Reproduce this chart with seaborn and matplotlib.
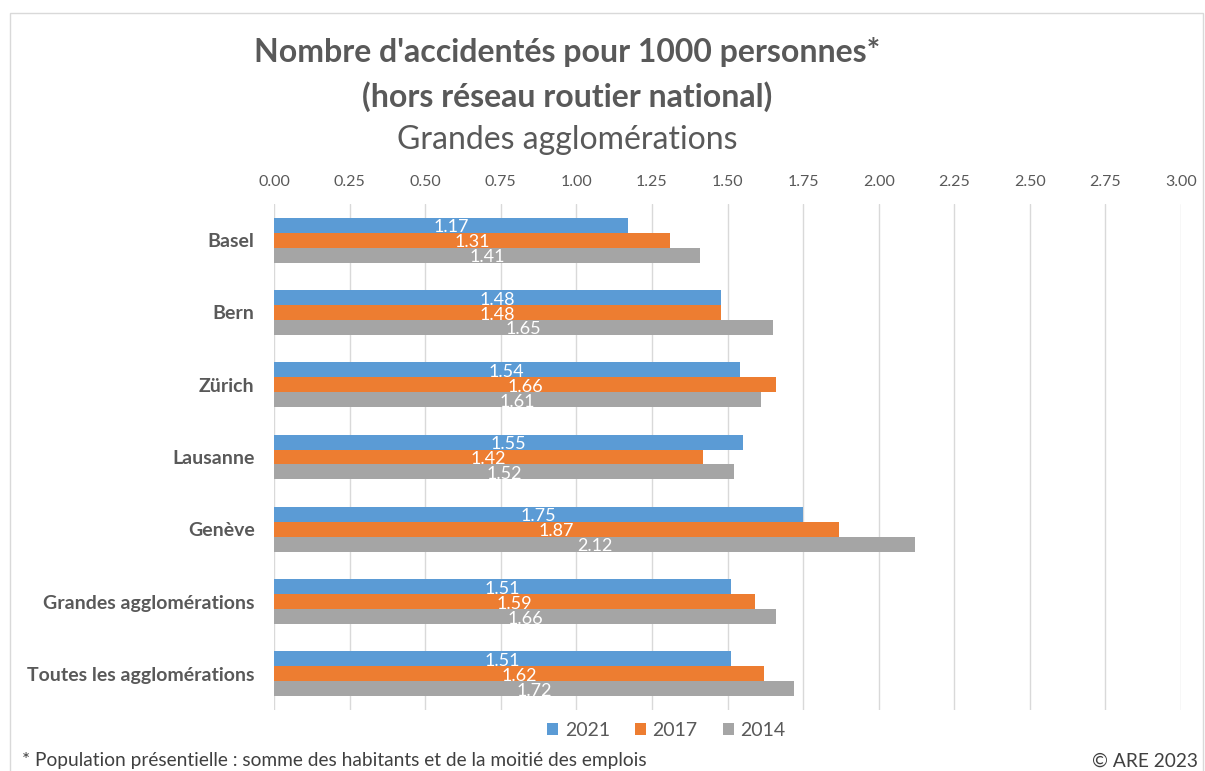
import seaborn as sns
import pandas as pd
import matplotlib.pyplot as plt
from matplotlib.patches import Rectangle

# data
villes = ["Basel", "Bern", "Zürich", "Lausanne", "Genève",
          "Grandes agglomérations", "Toutes les agglomérations"]
annees = ["2021", "2017", "2014"]
v2021 = [1.17, 1.48, 1.54, 1.55, 1.75, 1.51, 1.51]
v2017 = [1.31, 1.48, 1.66, 1.42, 1.87, 1.59, 1.62]
v2014 = [1.41, 1.65, 1.61, 1.52, 2.12, 1.66, 1.72]
couleurs = ["#5B9BD5", "#ED7D31", "#A5A5A5"]
x_ticks = [0, 0.25, 0.5, 0.75, 1.0, 1.25, 1.5, 1.75, 2.0, 2.25, 2.5, 2.75, 3.0]

df = pd.DataFrame({"ville": villes * 3,
                   "annee": [a for a in annees for _ in villes],
                   "valeur": v2021 + v2017 + v2014})

sns.set_style("white")
plt.rcParams["font.family"] = ["Lato", "DejaVu Sans"]
gris = "#595959"

fig = plt.figure(figsize=(12.05, 7.71), dpi=100)
ax = fig.add_axes([0.2274, 0.0791, 0.7527, 0.6563])

sns.barplot(data=df, y="ville", x="valeur", hue="annee", order=villes,
            hue_order=annees, palette=couleurs, width=0.62, gap=0,
            saturation=1, ax=ax, legend=True, edgecolor="none")

# labels centred in the bars, slightly low like the original
for c in ax.containers:
    labs = ax.bar_label(c, fmt="%.2f", label_type="center", color="white",
                        fontsize=13)
    for t in labs:
        t.xyann = (0, -1.5)

ax.set_xlim(0, 3)
ax.set_xticks(x_ticks)
ax.set_xticklabels([f"{t:.2f}" for t in x_ticks], color=gris, fontsize=11.5)
ax.xaxis.tick_top()
ax.tick_params(axis="x", length=0, pad=11)
for lab in ax.get_yticklabels():
    lab.set_fontweight("bold")
    lab.set_fontsize(14)
    lab.set_color(gris)
ax.tick_params(axis="y", length=0, pad=14)
ax.set_xlabel("")
ax.set_ylabel("")
ax.grid(axis="x", color="#D9D9D9", linewidth=1)
ax.set_axisbelow(True)
for s in ax.spines.values():
    s.set_visible(False)

h, l = ax.get_legend_handles_labels()
ax.legend_.remove()
fig.legend(h, l, loc="center", bbox_to_anchor=(0.553, 0.053), ncol=3,
           frameon=False, fontsize=14, handlelength=0.55, handleheight=0.55,
           columnspacing=1.3, handletextpad=0.35, labelcolor=gris)

fig.text(0.471, 0.932, "Nombre d'accidentés pour 1000 personnes*", ha="center",
         va="center", fontsize=23, fontweight="bold", color=gris)
fig.text(0.471, 0.875, "(hors réseau routier national)", ha="center",
         va="center", fontsize=23, fontweight="bold", color=gris)
fig.text(0.471, 0.819, "Grandes agglomérations", ha="center",
         va="center", fontsize=23, color=gris)

fig.text(0.018, 0.013, "* Population présentielle : somme des habitants et de la moitié des emplois",
         ha="left", va="center", fontsize=13.8, color="#404040")
fig.text(0.994, 0.013, "© ARE 2023", ha="right", va="center",
         fontsize=13.8, color="#404040")

fig.patches.append(Rectangle((0.008, -0.01), 0.99, 0.993, transform=fig.transFigure,
                             fill=False, edgecolor="#D9D9D9", linewidth=1))

fig.savefig("out.png", dpi=100)
